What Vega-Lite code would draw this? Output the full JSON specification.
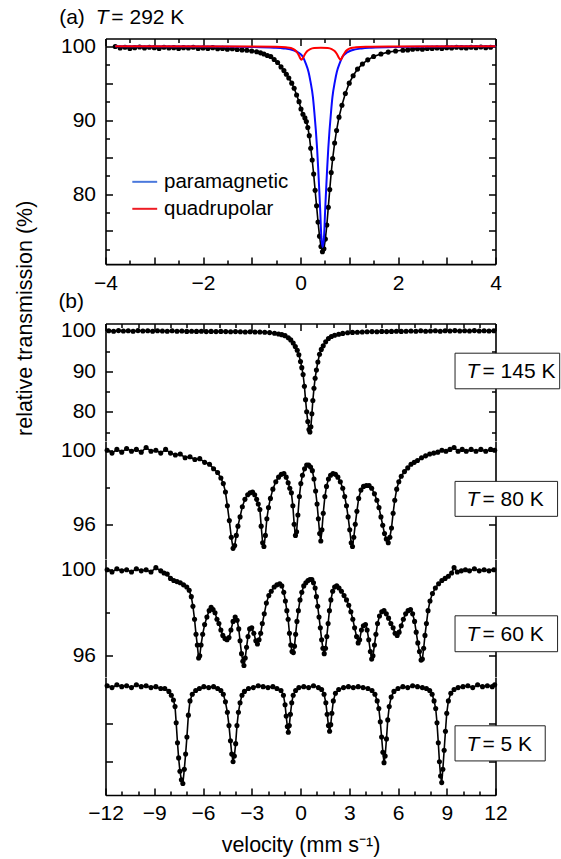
{
  "$schema": "https://vega.github.io/schema/vega-lite/v6.json",
  "background": "white",
  "padding": {"left": 14.5, "top": 6.5, "right": 0, "bottom": 0},
  "spacing": 0,
  "bounds": "flush",
  "config": {
    "font": "Liberation Sans",
    "view": {"stroke": null},
    "axis": {"grid": false, "labelFont": "Liberation Sans", "labelFontSize": 21, "labelColor": "#000", "domainColor": "#000", "tickColor": "#000", "domainWidth": 1.6, "tickWidth": 1.5, "titleFont": "Liberation Sans", "titleFontSize": 21.5, "titleFontWeight": "normal", "titleColor": "#000", "labelFlush": false, "labelOverlap": false},
    "text": {"font": "Liberation Sans", "fontSize": 21, "fill": "#000"}
  },
  "datasets": {
    "a": [{"v":-3.8,"t":99.95},{"v":-3.7,"t":99.75},{"v":-3.6,"t":99.85},{"v":-3.5,"t":99.7},{"v":-3.4,"t":99.8},{"v":-3.3,"t":99.9},{"v":-3.2,"t":99.75},{"v":-3.1,"t":99.85},{"v":-3.0,"t":99.8},{"v":-2.9,"t":99.7},{"v":-2.8,"t":99.85},{"v":-2.7,"t":99.75},{"v":-2.6,"t":99.8},{"v":-2.5,"t":99.7},{"v":-2.4,"t":99.8},{"v":-2.3,"t":99.75},{"v":-2.2,"t":99.85},{"v":-2.1,"t":99.7},{"v":-2.0,"t":99.75},{"v":-1.9,"t":99.7},{"v":-1.8,"t":99.8},{"v":-1.7,"t":99.65},{"v":-1.6,"t":99.7},{"v":-1.5,"t":99.6},{"v":-1.4,"t":99.65},{"v":-1.3,"t":99.55},{"v":-1.2,"t":99.5},{"v":-1.1,"t":99.45},{"v":-1.0,"t":99.35},{"v":-0.9,"t":99.25},{"v":-0.82,"t":99.1},{"v":-0.75,"t":98.95},{"v":-0.68,"t":98.75},{"v":-0.61,"t":98.6},{"v":-0.54,"t":98.2},{"v":-0.47,"t":97.8},{"v":-0.4,"t":97.2},{"v":-0.34,"t":96.7},{"v":-0.29,"t":96.2},{"v":-0.24,"t":95.7},{"v":-0.18,"t":95.0},{"v":-0.13,"t":94.3},{"v":-0.08,"t":93.4},{"v":-0.03,"t":92.5},{"v":0.01,"t":91.5},{"v":0.05,"t":90.8},{"v":0.09,"t":90.3},{"v":0.12,"t":89.8},{"v":0.15,"t":89.0},{"v":0.18,"t":87.9},{"v":0.21,"t":86.2},{"v":0.24,"t":84.6},{"v":0.27,"t":82.7},{"v":0.30,"t":80.5},{"v":0.33,"t":78.4},{"v":0.36,"t":76.2},{"v":0.39,"t":74.3},{"v":0.42,"t":72.9},{"v":0.45,"t":72.2},{"v":0.48,"t":72.6},{"v":0.51,"t":73.9},{"v":0.54,"t":75.8},{"v":0.57,"t":78.2},{"v":0.60,"t":80.6},{"v":0.63,"t":82.9},{"v":0.66,"t":84.8},{"v":0.70,"t":86.9},{"v":0.74,"t":88.6},{"v":0.79,"t":90.4},{"v":0.85,"t":92.0},{"v":0.92,"t":93.6},{"v":1.0,"t":95.0},{"v":1.08,"t":96.0},{"v":1.17,"t":96.9},{"v":1.27,"t":97.6},{"v":1.38,"t":98.15},{"v":1.5,"t":98.6},{"v":1.65,"t":98.95},{"v":1.8,"t":99.2},{"v":1.95,"t":99.35},{"v":2.1,"t":99.45},{"v":2.2,"t":99.5},{"v":2.3,"t":99.6},{"v":2.4,"t":99.65},{"v":2.5,"t":99.6},{"v":2.6,"t":99.7},{"v":2.7,"t":99.7},{"v":2.8,"t":99.75},{"v":2.9,"t":99.7},{"v":3.0,"t":99.8},{"v":3.1,"t":99.75},{"v":3.2,"t":99.85},{"v":3.3,"t":99.8},{"v":3.4,"t":99.75},{"v":3.5,"t":99.85},{"v":3.6,"t":99.8},{"v":3.7,"t":99.9},{"v":3.8,"t":99.8},{"v":3.9,"t":99.85}],
    "para": [{"v":-3.8,"t":100.0},{"v":-2.0,"t":99.96},{"v":-1.05,"t":99.9},{"v":-0.545,"t":99.8},{"v":-0.345,"t":99.7},{"v":-0.145,"t":99.45},{"v":-0.045,"t":99.15},{"v":0.045,"t":98.6},{"v":0.105,"t":97.7},{"v":0.165,"t":96.5},{"v":0.205,"t":95.2},{"v":0.255,"t":93.1},{"v":0.285,"t":91.0},{"v":0.315,"t":88.6},{"v":0.34,"t":86.2},{"v":0.365,"t":83.2},{"v":0.385,"t":80.5},{"v":0.405,"t":77.7},{"v":0.425,"t":74.5},{"v":0.455,"t":72.8},{"v":0.485,"t":74.5},{"v":0.505,"t":77.7},{"v":0.525,"t":80.5},{"v":0.545,"t":83.2},{"v":0.57,"t":86.2},{"v":0.595,"t":88.6},{"v":0.625,"t":91.0},{"v":0.655,"t":93.1},{"v":0.705,"t":95.2},{"v":0.745,"t":96.5},{"v":0.805,"t":97.7},{"v":0.865,"t":98.6},{"v":0.955,"t":99.15},{"v":1.055,"t":99.45},{"v":1.255,"t":99.7},{"v":1.455,"t":99.8},{"v":1.955,"t":99.9},{"v":2.955,"t":99.96},{"v":4.0,"t":100.0}],
    "quad": [{"v":-3.8,"t":100.0},{"v":-1.0,"t":99.97},{"v":-0.5,"t":99.93},{"v":-0.3,"t":99.85},{"v":-0.2,"t":99.75},{"v":-0.12,"t":99.5},{"v":-0.07,"t":99.15},{"v":-0.03,"t":98.7},{"v":0.0,"t":98.3},{"v":0.02,"t":98.15},{"v":0.05,"t":98.4},{"v":0.09,"t":98.9},{"v":0.14,"t":99.35},{"v":0.2,"t":99.6},{"v":0.28,"t":99.75},{"v":0.42,"t":99.8},{"v":0.56,"t":99.75},{"v":0.64,"t":99.6},{"v":0.7,"t":99.35},{"v":0.75,"t":98.9},{"v":0.79,"t":98.4},{"v":0.82,"t":98.15},{"v":0.84,"t":98.3},{"v":0.87,"t":98.7},{"v":0.91,"t":99.15},{"v":0.96,"t":99.5},{"v":1.04,"t":99.75},{"v":1.14,"t":99.85},{"v":1.34,"t":99.93},{"v":1.8,"t":99.97},{"v":4.0,"t":100.0}],
    "k145": [{"v":-11.8,"t":100.0},{"v":-11.5,"t":99.9},{"v":-11.2,"t":100.05},{"v":-10.9,"t":99.95},{"v":-10.6,"t":100.0},{"v":-10.3,"t":99.9},{"v":-10.0,"t":100.05},{"v":-9.7,"t":99.95},{"v":-9.4,"t":100.0},{"v":-9.1,"t":99.9},{"v":-8.8,"t":100.0},{"v":-8.5,"t":99.95},{"v":-8.2,"t":99.9},{"v":-7.9,"t":100.0},{"v":-7.6,"t":99.9},{"v":-7.3,"t":99.95},{"v":-7.0,"t":99.85},{"v":-6.7,"t":99.9},{"v":-6.4,"t":99.85},{"v":-6.1,"t":99.9},{"v":-5.8,"t":99.8},{"v":-5.5,"t":99.85},{"v":-5.2,"t":99.8},{"v":-4.9,"t":99.85},{"v":-4.6,"t":99.8},{"v":-4.3,"t":99.75},{"v":-4.0,"t":99.8},{"v":-3.7,"t":99.75},{"v":-3.4,"t":99.7},{"v":-3.1,"t":99.75},{"v":-2.8,"t":99.7},{"v":-2.5,"t":99.7},{"v":-2.2,"t":99.65},{"v":-1.9,"t":99.55},{"v":-1.6,"t":99.4},{"v":-1.35,"t":99.2},{"v":-1.15,"t":99.05},{"v":-0.95,"t":98.8},{"v":-0.75,"t":98.3},{"v":-0.6,"t":97.75},{"v":-0.45,"t":97.0},{"v":-0.32,"t":96.1},{"v":-0.2,"t":95.2},{"v":-0.1,"t":94.1},{"v":0.0,"t":92.4},{"v":0.08,"t":90.9},{"v":0.16,"t":89.2},{"v":0.24,"t":86.3},{"v":0.31,"t":83.0},{"v":0.38,"t":80.0},{"v":0.45,"t":77.6},{"v":0.52,"t":75.6},{"v":0.58,"t":75.0},{"v":0.64,"t":76.3},{"v":0.70,"t":79.5},{"v":0.76,"t":82.8},{"v":0.83,"t":85.8},{"v":0.90,"t":88.3},{"v":0.98,"t":90.3},{"v":1.07,"t":92.3},{"v":1.17,"t":94.2},{"v":1.28,"t":95.4},{"v":1.4,"t":96.3},{"v":1.55,"t":97.3},{"v":1.72,"t":98.1},{"v":1.9,"t":98.6},{"v":2.1,"t":98.9},{"v":2.35,"t":99.15},{"v":2.6,"t":99.35},{"v":2.9,"t":99.5},{"v":3.2,"t":99.6},{"v":3.5,"t":99.65},{"v":3.8,"t":99.7},{"v":4.1,"t":99.75},{"v":4.4,"t":99.8},{"v":4.7,"t":99.75},{"v":5.0,"t":99.85},{"v":5.3,"t":99.8},{"v":5.6,"t":99.85},{"v":5.9,"t":99.9},{"v":6.2,"t":99.85},{"v":6.5,"t":99.9},{"v":6.8,"t":99.95},{"v":7.1,"t":99.9},{"v":7.4,"t":100.0},{"v":7.7,"t":99.9},{"v":8.0,"t":99.95},{"v":8.3,"t":100.0},{"v":8.6,"t":99.9},{"v":8.9,"t":100.0},{"v":9.2,"t":99.95},{"v":9.5,"t":100.05},{"v":9.8,"t":99.95},{"v":10.1,"t":100.0},{"v":10.4,"t":99.95},{"v":10.7,"t":100.05},{"v":11.0,"t":99.95},{"v":11.3,"t":100.0},{"v":11.6,"t":99.95},{"v":11.9,"t":100.0}],
    "k80": [{"v":-11.9,"t":100.0},{"v":-11.6,"t":99.85},{"v":-11.3,"t":100.05},{"v":-11.0,"t":99.9},{"v":-10.7,"t":100.1},{"v":-10.4,"t":99.95},{"v":-10.1,"t":100.05},{"v":-9.8,"t":99.9},{"v":-9.5,"t":100.15},{"v":-9.2,"t":99.95},{"v":-8.9,"t":100.0},{"v":-8.6,"t":99.85},{"v":-8.3,"t":100.05},{"v":-8.0,"t":99.85},{"v":-7.7,"t":99.75},{"v":-7.4,"t":99.8},{"v":-7.1,"t":99.6},{"v":-6.8,"t":99.65},{"v":-6.5,"t":99.5},{"v":-6.2,"t":99.55},{"v":-5.9,"t":99.35},{"v":-5.6,"t":99.25},{"v":-5.35,"t":99.0},{"v":-5.1,"t":98.8},{"v":-4.9,"t":98.5},{"v":-4.75,"t":98.2},{"v":-4.62,"t":97.75},{"v":-4.5,"t":97.0},{"v":-4.38,"t":96.2},{"v":-4.26,"t":95.3},{"v":-4.15,"t":94.7},{"v":-4.05,"t":94.85},{"v":-3.95,"t":95.4},{"v":-3.85,"t":95.9},{"v":-3.72,"t":96.4},{"v":-3.58,"t":96.95},{"v":-3.42,"t":97.35},{"v":-3.25,"t":97.6},{"v":-3.1,"t":97.7},{"v":-2.95,"t":97.75},{"v":-2.82,"t":97.6},{"v":-2.7,"t":97.35},{"v":-2.6,"t":97.1},{"v":-2.5,"t":96.8},{"v":-2.42,"t":95.9},{"v":-2.33,"t":95.0},{"v":-2.25,"t":94.8},{"v":-2.16,"t":95.4},{"v":-2.07,"t":96.3},{"v":-1.97,"t":96.9},{"v":-1.85,"t":97.4},{"v":-1.7,"t":97.9},{"v":-1.52,"t":98.3},{"v":-1.35,"t":98.55},{"v":-1.18,"t":98.7},{"v":-1.02,"t":98.75},{"v":-0.88,"t":98.55},{"v":-0.76,"t":98.25},{"v":-0.66,"t":97.95},{"v":-0.56,"t":97.7},{"v":-0.47,"t":97.0},{"v":-0.39,"t":96.0},{"v":-0.31,"t":95.4},{"v":-0.24,"t":95.6},{"v":-0.16,"t":96.5},{"v":-0.07,"t":97.5},{"v":0.02,"t":98.2},{"v":0.12,"t":98.65},{"v":0.25,"t":99.0},{"v":0.38,"t":99.2},{"v":0.5,"t":99.2},{"v":0.62,"t":99.1},{"v":0.73,"t":98.9},{"v":0.83,"t":98.45},{"v":0.93,"t":97.8},{"v":1.02,"t":97.1},{"v":1.1,"t":96.3},{"v":1.18,"t":95.5},{"v":1.25,"t":95.1},{"v":1.32,"t":95.7},{"v":1.4,"t":96.6},{"v":1.5,"t":97.5},{"v":1.6,"t":98.05},{"v":1.72,"t":98.45},{"v":1.85,"t":98.65},{"v":2.0,"t":98.75},{"v":2.15,"t":98.7},{"v":2.3,"t":98.55},{"v":2.45,"t":98.3},{"v":2.6,"t":97.95},{"v":2.72,"t":97.5},{"v":2.83,"t":97.0},{"v":2.93,"t":96.4},{"v":3.03,"t":95.7},{"v":3.12,"t":95.0},{"v":3.2,"t":94.8},{"v":3.28,"t":95.3},{"v":3.37,"t":96.0},{"v":3.47,"t":96.7},{"v":3.58,"t":97.4},{"v":3.72,"t":97.85},{"v":3.88,"t":98.05},{"v":4.05,"t":98.1},{"v":4.22,"t":98.1},{"v":4.38,"t":97.95},{"v":4.55,"t":97.65},{"v":4.7,"t":97.3},{"v":4.83,"t":96.9},{"v":4.95,"t":96.4},{"v":5.06,"t":95.95},{"v":5.17,"t":95.5},{"v":5.28,"t":95.2},{"v":5.4,"t":95.0},{"v":5.5,"t":95.3},{"v":5.6,"t":95.8},{"v":5.7,"t":96.6},{"v":5.8,"t":97.3},{"v":5.92,"t":97.9},{"v":6.05,"t":98.3},{"v":6.2,"t":98.6},{"v":6.4,"t":98.85},{"v":6.6,"t":99.05},{"v":6.8,"t":99.25},{"v":7.0,"t":99.35},{"v":7.2,"t":99.45},{"v":7.45,"t":99.6},{"v":7.7,"t":99.7},{"v":7.95,"t":99.8},{"v":8.2,"t":99.85},{"v":8.45,"t":99.9},{"v":8.7,"t":100.0},{"v":8.95,"t":99.95},{"v":9.2,"t":100.05},{"v":9.45,"t":100.15},{"v":9.7,"t":99.95},{"v":9.95,"t":100.05},{"v":10.2,"t":99.95},{"v":10.5,"t":100.05},{"v":10.8,"t":99.95},{"v":11.1,"t":100.05},{"v":11.4,"t":99.95},{"v":11.7,"t":100.05},{"v":11.95,"t":100.0}],
    "k60": [{"v":-11.9,"t":100.0},{"v":-11.6,"t":99.9},{"v":-11.3,"t":100.05},{"v":-11.0,"t":99.95},{"v":-10.7,"t":100.0},{"v":-10.4,"t":99.9},{"v":-10.1,"t":100.05},{"v":-9.8,"t":99.95},{"v":-9.5,"t":100.0},{"v":-9.2,"t":99.9},{"v":-8.9,"t":100.1},{"v":-8.6,"t":99.95},{"v":-8.4,"t":99.85},{"v":-8.2,"t":99.8},{"v":-8.0,"t":99.6},{"v":-7.8,"t":99.5},{"v":-7.6,"t":99.45},{"v":-7.4,"t":99.4},{"v":-7.2,"t":99.3},{"v":-7.0,"t":99.2},{"v":-6.85,"t":99.05},{"v":-6.72,"t":98.75},{"v":-6.62,"t":98.3},{"v":-6.52,"t":97.7},{"v":-6.43,"t":97.0},{"v":-6.35,"t":96.5},{"v":-6.27,"t":95.9},{"v":-6.2,"t":96.0},{"v":-6.12,"t":96.5},{"v":-6.02,"t":97.0},{"v":-5.9,"t":97.45},{"v":-5.76,"t":97.8},{"v":-5.62,"t":98.1},{"v":-5.5,"t":98.25},{"v":-5.38,"t":98.15},{"v":-5.26,"t":98.0},{"v":-5.14,"t":97.7},{"v":-5.02,"t":97.5},{"v":-4.9,"t":97.2},{"v":-4.78,"t":96.95},{"v":-4.65,"t":96.8},{"v":-4.52,"t":96.75},{"v":-4.4,"t":96.85},{"v":-4.28,"t":97.2},{"v":-4.15,"t":97.6},{"v":-4.02,"t":97.8},{"v":-3.9,"t":97.65},{"v":-3.8,"t":97.25},{"v":-3.72,"t":96.7},{"v":-3.63,"t":96.1},{"v":-3.55,"t":95.75},{"v":-3.48,"t":95.55},{"v":-3.4,"t":95.9},{"v":-3.32,"t":96.4},{"v":-3.23,"t":96.9},{"v":-3.13,"t":97.25},{"v":-3.0,"t":97.3},{"v":-2.87,"t":97.05},{"v":-2.75,"t":96.7},{"v":-2.65,"t":96.55},{"v":-2.55,"t":96.75},{"v":-2.45,"t":97.05},{"v":-2.35,"t":97.5},{"v":-2.23,"t":97.95},{"v":-2.1,"t":98.45},{"v":-1.95,"t":98.8},{"v":-1.8,"t":99.0},{"v":-1.62,"t":99.2},{"v":-1.45,"t":99.3},{"v":-1.28,"t":99.35},{"v":-1.15,"t":99.25},{"v":-1.03,"t":98.95},{"v":-0.93,"t":98.55},{"v":-0.84,"t":98.1},{"v":-0.76,"t":97.7},{"v":-0.68,"t":97.05},{"v":-0.6,"t":96.5},{"v":-0.52,"t":96.2},{"v":-0.44,"t":96.15},{"v":-0.37,"t":96.45},{"v":-0.3,"t":97.0},{"v":-0.22,"t":97.6},{"v":-0.13,"t":98.1},{"v":-0.03,"t":98.6},{"v":0.08,"t":98.95},{"v":0.2,"t":99.25},{"v":0.33,"t":99.4},{"v":0.46,"t":99.5},{"v":0.58,"t":99.55},{"v":0.7,"t":99.55},{"v":0.8,"t":99.4},{"v":0.9,"t":99.15},{"v":0.98,"t":98.75},{"v":1.06,"t":98.3},{"v":1.14,"t":97.8},{"v":1.22,"t":97.3},{"v":1.3,"t":96.75},{"v":1.38,"t":96.35},{"v":1.46,"t":96.1},{"v":1.54,"t":96.35},{"v":1.62,"t":96.9},{"v":1.7,"t":97.5},{"v":1.78,"t":98.1},{"v":1.87,"t":98.6},{"v":1.98,"t":99.0},{"v":2.1,"t":99.2},{"v":2.23,"t":99.25},{"v":2.37,"t":99.15},{"v":2.52,"t":99.0},{"v":2.68,"t":98.8},{"v":2.83,"t":98.6},{"v":2.97,"t":98.35},{"v":3.1,"t":98.05},{"v":3.22,"t":97.7},{"v":3.33,"t":97.3},{"v":3.45,"t":96.9},{"v":3.55,"t":96.6},{"v":3.64,"t":96.75},{"v":3.75,"t":97.2},{"v":3.87,"t":97.4},{"v":4.0,"t":97.45},{"v":4.1,"t":97.2},{"v":4.2,"t":96.75},{"v":4.3,"t":96.2},{"v":4.38,"t":95.85},{"v":4.46,"t":96.0},{"v":4.55,"t":96.5},{"v":4.64,"t":97.0},{"v":4.74,"t":97.5},{"v":4.86,"t":97.85},{"v":5.0,"t":98.05},{"v":5.14,"t":98.1},{"v":5.28,"t":97.95},{"v":5.42,"t":97.75},{"v":5.56,"t":97.5},{"v":5.7,"t":97.3},{"v":5.82,"t":97.05},{"v":5.95,"t":96.95},{"v":6.07,"t":97.1},{"v":6.2,"t":97.4},{"v":6.33,"t":97.7},{"v":6.47,"t":97.95},{"v":6.62,"t":98.1},{"v":6.77,"t":98.15},{"v":6.9,"t":97.95},{"v":7.02,"t":97.6},{"v":7.12,"t":97.1},{"v":7.22,"t":96.6},{"v":7.32,"t":96.2},{"v":7.42,"t":95.8},{"v":7.5,"t":95.85},{"v":7.58,"t":96.35},{"v":7.66,"t":96.95},{"v":7.75,"t":97.5},{"v":7.85,"t":98.1},{"v":7.97,"t":98.55},{"v":8.12,"t":98.9},{"v":8.3,"t":99.15},{"v":8.5,"t":99.35},{"v":8.7,"t":99.5},{"v":8.9,"t":99.6},{"v":9.1,"t":99.7},{"v":9.3,"t":99.85},{"v":9.45,"t":100.1},{"v":9.65,"t":99.9},{"v":9.9,"t":99.95},{"v":10.15,"t":100.0},{"v":10.4,"t":99.95},{"v":10.7,"t":100.05},{"v":11.0,"t":99.95},{"v":11.3,"t":100.0},{"v":11.6,"t":99.95},{"v":11.9,"t":100.0}],
    "k5": [{"v":-11.9,"t":100.0},{"v":-11.6,"t":99.9},{"v":-11.3,"t":100.05},{"v":-11.0,"t":99.95},{"v":-10.7,"t":100.0},{"v":-10.4,"t":99.9},{"v":-10.1,"t":100.05},{"v":-9.8,"t":99.95},{"v":-9.5,"t":100.0},{"v":-9.2,"t":99.9},{"v":-8.9,"t":99.95},{"v":-8.6,"t":99.85},{"v":-8.35,"t":99.85},{"v":-8.1,"t":99.7},{"v":-7.95,"t":99.5},{"v":-7.82,"t":99.25},{"v":-7.72,"t":98.9},{"v":-7.65,"t":98.05},{"v":-7.57,"t":97.0},{"v":-7.5,"t":96.2},{"v":-7.42,"t":95.5},{"v":-7.33,"t":95.05},{"v":-7.24,"t":94.85},{"v":-7.15,"t":95.6},{"v":-7.07,"t":96.4},{"v":-6.99,"t":97.3},{"v":-6.9,"t":98.45},{"v":-6.8,"t":99.2},{"v":-6.66,"t":99.55},{"v":-6.45,"t":99.75},{"v":-6.22,"t":99.85},{"v":-5.95,"t":99.95},{"v":-5.65,"t":99.9},{"v":-5.35,"t":99.95},{"v":-5.1,"t":99.85},{"v":-4.9,"t":99.75},{"v":-4.75,"t":99.55},{"v":-4.62,"t":99.15},{"v":-4.5,"t":98.6},{"v":-4.4,"t":97.9},{"v":-4.31,"t":97.1},{"v":-4.23,"t":96.4},{"v":-4.15,"t":96.0},{"v":-4.07,"t":96.3},{"v":-3.99,"t":96.95},{"v":-3.91,"t":97.9},{"v":-3.82,"t":98.6},{"v":-3.72,"t":99.1},{"v":-3.6,"t":99.5},{"v":-3.45,"t":99.7},{"v":-3.2,"t":99.85},{"v":-2.9,"t":99.9},{"v":-2.6,"t":100.0},{"v":-2.3,"t":99.95},{"v":-2.0,"t":99.9},{"v":-1.7,"t":99.95},{"v":-1.45,"t":99.85},{"v":-1.2,"t":99.75},{"v":-1.05,"t":99.5},{"v":-0.95,"t":99.0},{"v":-0.88,"t":98.4},{"v":-0.81,"t":97.85},{"v":-0.75,"t":97.55},{"v":-0.69,"t":97.9},{"v":-0.62,"t":98.5},{"v":-0.54,"t":99.1},{"v":-0.45,"t":99.5},{"v":-0.3,"t":99.75},{"v":-0.1,"t":99.9},{"v":0.2,"t":99.95},{"v":0.5,"t":99.9},{"v":0.8,"t":100.0},{"v":1.1,"t":99.9},{"v":1.3,"t":99.8},{"v":1.45,"t":99.55},{"v":1.56,"t":99.1},{"v":1.64,"t":98.5},{"v":1.72,"t":97.9},{"v":1.79,"t":97.6},{"v":1.86,"t":97.95},{"v":1.93,"t":98.55},{"v":2.02,"t":99.2},{"v":2.15,"t":99.6},{"v":2.35,"t":99.8},{"v":2.65,"t":99.9},{"v":2.95,"t":99.95},{"v":3.25,"t":99.9},{"v":3.55,"t":99.95},{"v":3.85,"t":99.9},{"v":4.15,"t":99.85},{"v":4.4,"t":99.75},{"v":4.58,"t":99.55},{"v":4.72,"t":99.2},{"v":4.82,"t":98.8},{"v":4.91,"t":98.1},{"v":4.99,"t":97.3},{"v":5.07,"t":96.5},{"v":5.14,"t":95.95},{"v":5.21,"t":96.3},{"v":5.29,"t":97.2},{"v":5.37,"t":98.2},{"v":5.46,"t":98.9},{"v":5.58,"t":99.4},{"v":5.75,"t":99.7},{"v":6.0,"t":99.85},{"v":6.3,"t":99.95},{"v":6.6,"t":99.9},{"v":6.9,"t":100.0},{"v":7.2,"t":99.95},{"v":7.5,"t":99.9},{"v":7.75,"t":99.85},{"v":7.95,"t":99.75},{"v":8.1,"t":99.55},{"v":8.22,"t":99.2},{"v":8.32,"t":98.8},{"v":8.4,"t":98.05},{"v":8.48,"t":97.0},{"v":8.55,"t":96.0},{"v":8.62,"t":95.25},{"v":8.69,"t":94.9},{"v":8.76,"t":95.6},{"v":8.84,"t":96.6},{"v":8.92,"t":97.6},{"v":9.0,"t":98.55},{"v":9.1,"t":99.2},{"v":9.25,"t":99.6},{"v":9.45,"t":99.8},{"v":9.7,"t":99.9},{"v":10.0,"t":99.95},{"v":10.3,"t":100.0},{"v":10.6,"t":99.9},{"v":10.9,"t":100.05},{"v":11.2,"t":99.95},{"v":11.5,"t":100.0},{"v":11.8,"t":99.95},{"v":11.95,"t":100.05}]
  },
  "vconcat": [
    {
      "width": 390, "height": 225.6,
      "layer": [
        {"data": {"name": "a"}, "mark": {"type": "line", "color": "#000", "strokeWidth": 1.6},
         "encoding": {
           "x": {"field": "v", "type": "quantitative", "scale": {"domain": [-4, 4], "nice": false, "zero": false}, "axis": {"orient": "bottom", "values": [-3.5,-2.5,-1.5,-0.5,0.5,1.5,2.5,3.5], "labels": false, "domain": false, "tickSize": -4, "title": null}},
           "y": {"field": "t", "type": "quantitative", "scale": {"domain": [70.52, 101.04], "nice": false, "zero": false}, "axis": {"orient": "left", "values": [97.5,92.5,87.5,82.5,77.5,72.5], "labels": false, "domain": false, "tickSize": -4, "title": null}}}},
        {"data": {"name": "a"}, "mark": {"type": "point", "filled": true, "size": 26, "color": "#000", "opacity": 1},
         "encoding": {
           "x": {"field": "v", "type": "quantitative", "axis": {"orient": "bottom", "values": [-4,-3,-2,-1,0,1,2,3,4], "format": "d", "labelExpr": "datum.value % 2 === 0 ? datum.label : ''", "tickSize": -7, "labelPadding": 15.5, "title": null}},
           "y": {"field": "t", "type": "quantitative", "axis": {"orient": "left", "values": [100,95,90,85,80,75], "format": "d", "labelExpr": "datum.value % 10 === 0 ? datum.label : ''", "tickSize": -7, "labelPadding": 17, "title": "relative transmission (%)", "titleX": -80, "titleY": 279.3, "titleAngle": 270, "titleAlign": "center", "titleBaseline": "middle"}}}},
        {"data": {"name": "para"}, "mark": {"type": "line", "color": "#0a0aff", "strokeWidth": 2, "interpolate": "monotone"},
         "encoding": {
           "x": {"field": "v", "type": "quantitative", "axis": {"orient": "top", "values": [-4,-3,-2,-1,0,1,2,3,4], "labels": false, "tickSize": -7, "title": null}},
           "y": {"field": "t", "type": "quantitative", "axis": {"orient": "right", "values": [100,95,90,85,80,75], "labels": false, "tickSize": -7, "title": null}}}},
        {"data": {"name": "quad"}, "mark": {"type": "line", "color": "#ff0000", "strokeWidth": 2, "interpolate": "monotone"},
         "encoding": {
           "x": {"field": "v", "type": "quantitative", "axis": {"orient": "top", "values": [-3.5,-2.5,-1.5,-0.5,0.5,1.5,2.5,3.5], "labels": false, "domain": false, "tickSize": -4, "title": null}},
           "y": {"field": "t", "type": "quantitative", "axis": {"orient": "right", "values": [97.5,92.5,87.5,82.5,77.5,72.5], "labels": false, "domain": false, "tickSize": -4, "title": null}}}},
        {"data": {"values": [{}]}, "mark": {"type": "rule", "color": "#4a78dc", "strokeWidth": 2},
         "encoding": {"x": {"datum": -3.45, "type": "quantitative", "axis": null}, "x2": {"datum": -2.94}, "y": {"datum": 81.65, "type": "quantitative", "axis": null}}},
        {"data": {"values": [{}]}, "mark": {"type": "rule", "color": "#ee1c24", "strokeWidth": 2},
         "encoding": {"x": {"datum": -3.45, "type": "quantitative", "axis": null}, "x2": {"datum": -2.94}, "y": {"datum": 78.0, "type": "quantitative", "axis": null}}},
        {"data": {"values": [{}]}, "mark": {"type": "text", "text": "paramagnetic", "align": "left", "baseline": "middle", "fontSize": 20.5},
         "encoding": {"x": {"datum": -2.8, "type": "quantitative", "axis": null}, "y": {"datum": 81.65, "type": "quantitative", "axis": null}}},
        {"data": {"values": [{}]}, "mark": {"type": "text", "text": "quadrupolar", "align": "left", "baseline": "middle", "fontSize": 20.5},
         "encoding": {"x": {"datum": -2.8, "type": "quantitative", "axis": null}, "y": {"datum": 78.0, "type": "quantitative", "axis": null}}},
        {"data": {"values": [{}]}, "mark": {"type": "text", "text": "(a)", "align": "left", "baseline": "middle"},
         "encoding": {"x": {"datum": -4.95, "type": "quantitative", "axis": null}, "y": {"datum": 103.75, "type": "quantitative", "axis": null}}},
        {"data": {"values": [{}]}, "mark": {"type": "text", "text": "T", "fontStyle": "italic", "align": "left", "baseline": "middle"},
         "encoding": {"x": {"datum": -4.2, "type": "quantitative", "axis": null}, "y": {"datum": 103.75, "type": "quantitative", "axis": null}}},
        {"data": {"values": [{}]}, "mark": {"type": "text", "text": "= 292 K", "align": "left", "baseline": "middle"},
         "encoding": {"x": {"datum": -3.88, "type": "quantitative", "axis": null}, "y": {"datum": 103.75, "type": "quantitative", "axis": null}}}
      ],
      "resolve": {"axis": {"x": "independent", "y": "independent"}}
    },
    {
      "width": 390, "height": 58.7,
      "data": {"values": [{}]},
      "mark": {"type": "text", "text": ""}
    },
    {
      "width": 390, "height": 117.5,
      "layer": [
        {"data": {"name": "k145"}, "mark": {"type": "line", "color": "#000", "strokeWidth": 1.6},
         "encoding": {
           "x": {"field": "v", "type": "quantitative", "scale": {"domain": [-12, 12], "nice": false, "zero": false}, "axis": {"orient": "top", "values": [-11,-10,-8,-7,-5,-4,-2,-1,1,2,4,5,7,8,10,11], "labels": false, "domain": false, "tickSize": -4, "title": null}},
           "y": {"field": "t", "type": "quantitative", "scale": {"domain": [72.79, 101.8], "nice": false, "zero": false}, "axis": {"orient": "left", "values": [95,85,75], "labels": false, "domain": false, "tickSize": -4, "title": null}}}},
        {"data": {"name": "k145"}, "mark": {"type": "point", "filled": true, "size": 26, "color": "#000", "opacity": 1},
         "encoding": {
           "x": {"field": "v", "type": "quantitative", "axis": {"orient": "top", "values": [-12,-9,-6,-3,0,3,6,9,12], "labels": false, "tickSize": -7, "title": null}},
           "y": {"field": "t", "type": "quantitative", "axis": {"orient": "left", "values": [100,90,80], "format": "d", "tickSize": -7, "labelPadding": 17, "title": null}}}},
        {"data": {"values": [{}]}, "mark": {"type": "rect", "fill": "#fff", "stroke": "#222", "strokeWidth": 1},
         "encoding": {"x": {"datum": 9.51, "type": "quantitative", "axis": null}, "x2": {"datum": 15.95}, "y": {"datum": 94.47, "type": "quantitative", "axis": {"orient": "right", "values": [100,90,80], "labels": false, "tickSize": -7, "title": null}}, "y2": {"datum": 85.68}}},
        {"data": {"values": [{}]}, "mark": {"type": "text", "text": "T", "fontStyle": "italic", "align": "left", "baseline": "middle"},
         "encoding": {"x": {"datum": 10.22, "type": "quantitative", "axis": null}, "y": {"datum": 89.78, "type": "quantitative", "axis": {"orient": "right", "values": [95,85,75], "labels": false, "domain": false, "tickSize": -4, "title": null}}}},
        {"data": {"values": [{}]}, "mark": {"type": "text", "text": "= 145 K", "align": "left", "baseline": "middle"},
         "encoding": {"x": {"datum": 11.2, "type": "quantitative", "axis": null}, "y": {"datum": 89.78, "type": "quantitative", "axis": null}}},
        {"data": {"values": [{}]}, "mark": {"type": "text", "text": "(b)", "align": "left", "baseline": "middle"},
         "encoding": {"x": {"datum": -14.9, "type": "quantitative", "axis": null}, "y": {"datum": 107.1, "type": "quantitative", "axis": null}}}
      ],
      "resolve": {"axis": {"x": "independent", "y": "independent"}}
    },
    {
      "width": 390, "height": 117.5,
      "layer": [
        {"data": {"name": "k80"}, "mark": {"type": "line", "color": "#000", "strokeWidth": 1.6},
         "encoding": {
           "x": {"field": "v", "type": "quantitative", "scale": {"domain": [-12, 12], "nice": false, "zero": false}, "axis": null},
           "y": {"field": "t", "type": "quantitative", "scale": {"domain": [94.124, 100.476], "nice": false, "zero": false}, "axis": {"orient": "left", "values": [98], "labels": false, "domain": false, "tickSize": -4, "title": null}}}},
        {"data": {"name": "k80"}, "mark": {"type": "point", "filled": true, "size": 26, "color": "#000", "opacity": 1},
         "encoding": {
           "x": {"field": "v", "type": "quantitative", "axis": null},
           "y": {"field": "t", "type": "quantitative", "axis": {"orient": "left", "values": [100,96], "format": "d", "tickSize": -7, "labelPadding": 17, "title": null}}}},
        {"data": {"values": [{}]}, "mark": {"type": "rect", "fill": "#fff", "stroke": "#222", "strokeWidth": 1},
         "encoding": {"x": {"datum": 9.51, "type": "quantitative", "axis": null}, "x2": {"datum": 15.82}, "y": {"datum": 98.32, "type": "quantitative", "axis": {"orient": "right", "values": [100,96], "labels": false, "tickSize": -7, "title": null}}, "y2": {"datum": 96.43}}},
        {"data": {"values": [{}]}, "mark": {"type": "text", "text": "T", "fontStyle": "italic", "align": "left", "baseline": "middle"},
         "encoding": {"x": {"datum": 10.22, "type": "quantitative", "axis": null}, "y": {"datum": 97.31, "type": "quantitative", "axis": {"orient": "right", "values": [98], "labels": false, "domain": false, "tickSize": -4, "title": null}}}},
        {"data": {"values": [{}]}, "mark": {"type": "text", "text": "= 80 K", "align": "left", "baseline": "middle"},
         "encoding": {"x": {"datum": 11.2, "type": "quantitative", "axis": null}, "y": {"datum": 97.31, "type": "quantitative", "axis": null}}}
      ],
      "resolve": {"axis": {"x": "independent", "y": "independent"}}
    },
    {
      "width": 390, "height": 117.5,
      "layer": [
        {"data": {"name": "k60"}, "mark": {"type": "line", "color": "#000", "strokeWidth": 1.6},
         "encoding": {
           "x": {"field": "v", "type": "quantitative", "scale": {"domain": [-12, 12], "nice": false, "zero": false}, "axis": null},
           "y": {"field": "t", "type": "quantitative", "scale": {"domain": [95.014, 100.479], "nice": false, "zero": false}, "axis": {"orient": "left", "values": [98], "labels": false, "domain": false, "tickSize": -4, "title": null}}}},
        {"data": {"name": "k60"}, "mark": {"type": "point", "filled": true, "size": 26, "color": "#000", "opacity": 1},
         "encoding": {
           "x": {"field": "v", "type": "quantitative", "axis": null},
           "y": {"field": "t", "type": "quantitative", "axis": {"orient": "left", "values": [100,96], "format": "d", "tickSize": -7, "labelPadding": 17, "title": null}}}},
        {"data": {"values": [{}]}, "mark": {"type": "rect", "fill": "#fff", "stroke": "#222", "strokeWidth": 1},
         "encoding": {"x": {"datum": 9.51, "type": "quantitative", "axis": null}, "x2": {"datum": 15.82}, "y": {"datum": 97.86, "type": "quantitative", "axis": {"orient": "right", "values": [100,96], "labels": false, "tickSize": -7, "title": null}}, "y2": {"datum": 96.19}}},
        {"data": {"values": [{}]}, "mark": {"type": "text", "text": "T", "fontStyle": "italic", "align": "left", "baseline": "middle"},
         "encoding": {"x": {"datum": 10.22, "type": "quantitative", "axis": null}, "y": {"datum": 96.97, "type": "quantitative", "axis": {"orient": "right", "values": [98], "labels": false, "domain": false, "tickSize": -4, "title": null}}}},
        {"data": {"values": [{}]}, "mark": {"type": "text", "text": "= 60 K", "align": "left", "baseline": "middle"},
         "encoding": {"x": {"datum": 11.2, "type": "quantitative", "axis": null}, "y": {"datum": 96.97, "type": "quantitative", "axis": null}}}
      ],
      "resolve": {"axis": {"x": "independent", "y": "independent"}}
    },
    {
      "width": 390, "height": 117.5,
      "layer": [
        {"data": {"name": "k5"}, "mark": {"type": "line", "color": "#000", "strokeWidth": 1.6},
         "encoding": {
           "x": {"field": "v", "type": "quantitative", "scale": {"domain": [-12, 12], "nice": false, "zero": false}, "axis": {"orient": "bottom", "values": [-11,-10,-8,-7,-5,-4,-2,-1,1,2,4,5,7,8,10,11], "labels": false, "domain": false, "tickSize": -4, "title": null}},
           "y": {"field": "t", "type": "quantitative", "scale": {"domain": [94.247, 100.432], "nice": false, "zero": false}, "axis": null}}},
        {"data": {"name": "k5"}, "mark": {"type": "point", "filled": true, "size": 26, "color": "#000", "opacity": 1},
         "encoding": {
           "x": {"field": "v", "type": "quantitative", "axis": {"orient": "bottom", "values": [-12,-9,-6,-3,0,3,6,9,12], "format": "d", "tickSize": -7, "labelPadding": 14.5, "title": "velocity (mm s⁻¹)", "titleX": 195, "titleY": 50.5, "titleAlign": "center", "titleBaseline": "middle"}},
           "y": {"field": "t", "type": "quantitative", "axis": {"orient": "left", "values": [98,96], "labels": false, "tickSize": -7, "title": null}}}},
        {"data": {"values": [{}]}, "mark": {"type": "rect", "fill": "#fff", "stroke": "#222", "strokeWidth": 1},
         "encoding": {"x": {"datum": 9.51, "type": "quantitative", "axis": null}, "x2": {"datum": 15.06}, "y": {"datum": 97.89, "type": "quantitative", "axis": {"orient": "right", "values": [98,96], "labels": false, "tickSize": -7, "title": null}}, "y2": {"datum": 96.04}}},
        {"data": {"values": [{}]}, "mark": {"type": "text", "text": "T", "fontStyle": "italic", "align": "left", "baseline": "middle"},
         "encoding": {"x": {"datum": 10.22, "type": "quantitative", "axis": null}, "y": {"datum": 96.9, "type": "quantitative", "axis": null}}},
        {"data": {"values": [{}]}, "mark": {"type": "text", "text": "= 5 K", "align": "left", "baseline": "middle"},
         "encoding": {"x": {"datum": 11.2, "type": "quantitative", "axis": null}, "y": {"datum": 96.9, "type": "quantitative", "axis": null}}}
      ],
      "resolve": {"axis": {"x": "independent", "y": "independent"}}
    }
  ]
}
